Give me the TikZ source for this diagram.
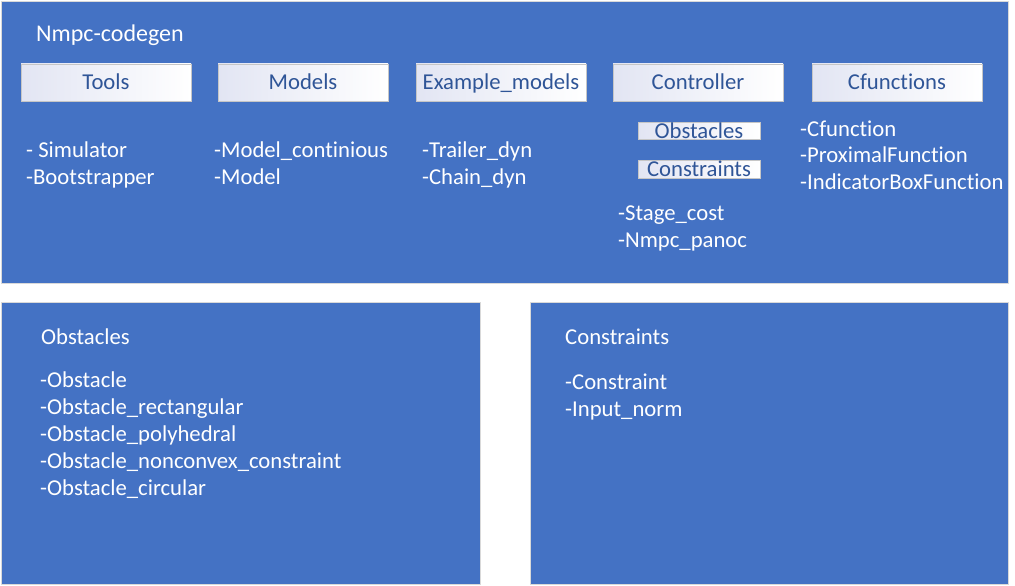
\documentclass[tikz,border=0pt]{standalone}
\usepackage{fontspec}
\setmainfont[Ligatures=NoCommon]{Carlito}
\definecolor{obl}{HTML}{4472C4}
\definecolor{dbl}{HTML}{2F5597}
\definecolor{lav}{HTML}{E2E5F3}
\begin{document}
\begin{tikzpicture}[x=1pt,y=-1pt,
  panel/.style={draw=gray!30, fill=obl, line width=0.8pt, inner sep=0, outer sep=0, anchor=north west},
  tab/.style={draw=gray!45, line width=0.6pt, left color=lav, right color=white, inner sep=0, outer sep=0, anchor=north west},
  lbl/.style={anchor=base west, text=white, inner sep=0, font=\fontsize{22.7}{26}\selectfont},
  tablbl/.style={anchor=base, text=dbl, inner sep=0, font=\fontsize{22.7}{26}\selectfont}]
\useasboundingbox (0,0) rectangle (1015,586);
\fill[white] (0,0) rectangle (1015,586);
% panels
\node[panel, minimum width=1007pt, minimum height=282pt] (top) at (1,1) {};
\node[panel, minimum width=479pt, minimum height=282pt] (obsP) at (1,302) {};
\node[panel, minimum width=478pt, minimum height=282pt] (conP) at (530,302) {};
% title
\node[lbl, font=\fontsize{24}{28}\selectfont] (title) at (36,41.5) {Nmpc-codegen};
% tabs
\foreach \n/\x in {tools/21, models/218, exm/416, ctrl/613, cfun/812}
  \node[tab, minimum width=170pt, minimum height=37pt] (\n) at (\x,64) {};
\node[tablbl] (toolsL) at ([yshift=-6.5pt]tools.center) {Tools};
\node[tablbl] (modelsL) at ([yshift=-6.5pt]models.center) {Models};
\node[tablbl] (exmL) at ([yshift=-6.5pt]exm.center) {Example\_models};
\node[tablbl] (ctrlL) at ([yshift=-6.5pt]ctrl.center) {Controller};
\node[tablbl] (cfunL) at ([yshift=-6.5pt]cfun.center) {Cfunctions};
% small tabs
\node[tab, minimum width=122pt, minimum height=17pt] (sobs) at (638,122) {};
\node[tab, minimum width=122pt, minimum height=18pt] (scon) at (638,160) {};
\node[tablbl] (sobsL) at ([yshift=-7.5pt]sobs.center) {Obstacles};
\node[tablbl] (sconL) at ([yshift=-7pt]scon.center) {Constraints};
% lists
\node[lbl] (t1) at (26,157) {- Simulator};
\node[lbl] (t2) at (26,184) {-Bootstrapper};
\node[lbl] (m1) at (214,157) {-Model\_continious};
\node[lbl] (m2) at (214,184) {-Model};
\node[lbl] (e1) at (422,157) {-Trailer\_dyn};
\node[lbl] (e2) at (422,184) {-Chain\_dyn};
\node[lbl] (c1) at (618,220) {-Stage\_cost};
\node[lbl] (c2) at (618,247) {-Nmpc\_panoc};
\node[lbl] (f1) at (800,136) {-Cfunction};
\node[lbl] (f2) at (800,162.5) {-ProximalFunction};
\node[lbl] (f3) at (800,189) {-IndicatorBoxFunction};
% bottom left
\node[lbl] (obT) at (41,344) {Obstacles};
\node[lbl] (o1) at (40,387) {-Obstacle};
\node[lbl] (o2) at (40,414) {-Obstacle\_rectangular};
\node[lbl] (o3) at (40,441) {-Obstacle\_polyhedral};
\node[lbl] (o4) at (40,468) {-Obstacle\_nonconvex\_constraint};
\node[lbl] (o5) at (40,495) {-Obstacle\_circular};
% bottom right
\node[lbl] (coT) at (565,344) {Constraints};
\node[lbl] (k1) at (565,389.5) {-Constraint};
\node[lbl] (k2) at (565,416.5) {-Input\_norm};
\end{tikzpicture}
\end{document}
